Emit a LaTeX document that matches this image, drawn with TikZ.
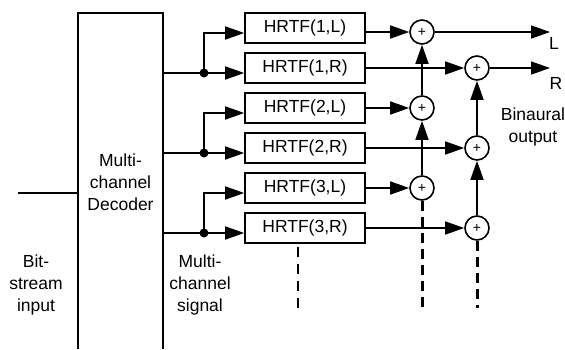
\documentclass[tikz,border=0pt]{standalone}
\usepackage{fontspec}
\setmainfont{Liberation Sans}
\usetikzlibrary{arrows.meta,calc}
\begin{document}
\begin{tikzpicture}[x=1pt,y=-1pt,
  wire/.style={line width=1.6pt},
  arr/.style={wire,-{Triangle[length=19pt,width=13pt]}},
  hbox/.style={draw,line width=1.6pt,minimum width=120pt,minimum height=30pt,inner sep=0pt,font=\fontsize{17.5}{22}\selectfont},
  sumnode/.style={draw,circle,line width=1.6pt,minimum size=24pt,inner sep=0pt,fill=white,font=\fontsize{14}{14}\selectfont},
  lbl/.style={align=center,font=\fontsize{17.5}{22}\selectfont,inner sep=0pt},
  jdot/.style={circle,fill,minimum size=9pt,inner sep=0pt},
  dashcol/.style={line width=3pt,dash pattern=on 10pt off 6pt},
  dashbox/.style={line width=2pt,dash pattern=on 10pt off 7pt}]
\useasboundingbox (0,0) rectangle (565,349);
% decoder block (open at bottom)
\coordinate (dbl) at (78,349);
\coordinate (dtl) at (78,13);
\coordinate (dtr) at (163,13);
\coordinate (dbr) at (163,349);
\draw[wire] (dbl) -- (dtl) -- (dtr) -- (dbr);
\node[lbl] (dec) at (120.5,182) {Multi-\\channel\\Decoder};
\coordinate (bsin) at (18,193);
\draw[wire] (bsin) -- (bsin -| dtl);
\node[lbl] (bstext) at (36,285) {Bit-\\stream\\input};
\node[lbl] (mctext) at (200,285) {Multi-\\channel\\signal};
% HRTF boxes
\node[hbox] (b1) at (305,28) {HRTF(1,L)};
\node[hbox] (b2) at (305,68) {HRTF(1,R)};
\node[hbox] (b3) at (305,108) {HRTF(2,L)};
\node[hbox] (b4) at (305,148) {HRTF(2,R)};
\node[hbox] (b5) at (305,188) {HRTF(3,L)};
\node[hbox] (b6) at (305,228) {HRTF(3,R)};
% junctions
\foreach \k/\y/\u/\bu/\bl in {1/73/33/b1/b2, 2/153/113/b3/b4, 3/233/193/b5/b6}{
  \coordinate (j\k) at (204,\y);
  \coordinate (u\k) at (204,\u);
  \draw[wire] (j\k -| dtr) -- (j\k);
  \draw[arr] (j\k) -- (j\k -| \bl.west);
  \draw[arr] (j\k) -- (u\k) -- (u\k -| \bu.west);
  \node[jdot] (jd\k) at (j\k) {};
}
% summing nodes
\node[sumnode] (s1) at (422,32) {+};
\node[sumnode] (s3) at (422,108) {+};
\node[sumnode] (s5) at (422,188) {+};
\node[sumnode] (s2) at (477,68) {+};
\node[sumnode] (s4) at (477,148) {+};
\node[sumnode] (s6) at (477,228) {+};
% box to sums
\draw[arr] (s1 -| b1.east) -- (s1);
\draw[arr] (s2 -| b2.east) -- (s2);
\draw[arr] (s3 -| b3.east) -- (s3);
\draw[arr] (s4 -| b4.east) -- (s4);
\draw[arr] (s5 -| b5.east) -- (s5);
\draw[arr] (s6 -| b6.east) -- (s6);
% vertical chains
\draw[arr] (s3) -- (s1);
\draw[arr] (s5) -- (s3);
\draw[arr] (s4) -- (s2);
\draw[arr] (s6) -- (s4);
% dashed continuations
\coordinate (dend) at (0,308);
\draw[dashcol] (s5.south) -- (s5 |- dend);
\draw[dashcol] (s6.south) -- (s6 |- dend);
\coordinate (bdash) at (298,247);
\draw[dashbox] (bdash) -- (bdash |- dend);
% outputs
\coordinate (oL) at (550,32);
\coordinate (oR) at (550,68);
\draw[arr] (s1) -- (oL);
\draw[arr] (s2) -- (oR);
\node[lbl] (tL) at (554,43) {L};
\node[lbl] (tR) at (556,83) {R};
\node[lbl] (tbin) at (533,127) {Binaural\\output};
\end{tikzpicture}
\end{document}
